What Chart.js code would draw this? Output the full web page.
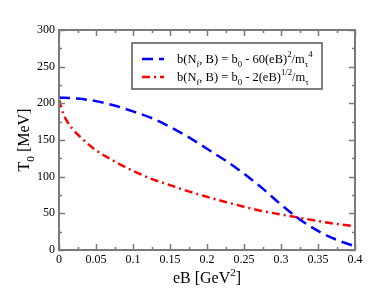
<!DOCTYPE html>
<html>
<head>
<meta charset="utf-8">
<script src="https://cdn.jsdelivr.net/npm/chart.js@4"></script>
<style>
  html, body { margin: 0; padding: 0; background: #fff; }
</style>
</head>
<body>
<canvas id="chart" width="382" height="295"></canvas>
<script>
/* ---------- DATA ---------- */
const EB_BLUE = [0, 0.025, 0.05, 0.075, 0.1, 0.125, 0.15, 0.175, 0.2, 0.225,
                 0.25, 0.275, 0.3, 0.325, 0.35, 0.375, 0.4];
const T_BLUE  = [208, 206.5, 203, 197, 189, 180, 168, 154, 138, 122,
                 104, 84, 62, 42, 26, 14, 5];

const EB_RED = [0, 0.005, 0.01, 0.02, 0.03, 0.05, 0.075, 0.1, 0.125, 0.15,
                0.175, 0.2, 0.225, 0.25, 0.275, 0.3, 0.325, 0.35, 0.375, 0.4];
const T_RED  = [205, 188, 177, 163, 153, 136, 121, 108, 97, 88.5,
                80, 72.5, 65.5, 59, 53, 48.5, 44, 39.5, 35.5, 32.5];

const X_TICKS = [0, 0.05, 0.1, 0.15, 0.2, 0.25, 0.3, 0.35, 0.4];
const Y_TICKS = [0, 50, 100, 150, 200, 250, 300];

/* legend text, split into runs: 0 normal, -1 subscript, 1 superscript */
const LEGEND_BLUE = [["b(N",0],["f",-1],[", B) = b",0],["0",-1],[" - 60(eB)",0],["2",1],["/m",0],["\u03c4",-1],["4",1]];
const LEGEND_RED  = [["b(N",0],["f",-1],[", B) = b",0],["0",-1],[" - 2(eB)",0],["1/2",1],["/m",0],["\u03c4",-1]];

/* ---------- LAYOUT ---------- */
const PLOT = { left: 59, right: 355, top: 30, bottom: 250 };
const SERIF = "'Liberation Serif', 'DejaVu Serif', serif";
const FRAME = "#7a7a7a";

const toPoints = (xs, ys) => xs.map((x, i) => ({ x: x, y: ys[i] }));

/* draws a run of text with sub/superscripts, returns end x */
function drawRuns(ctx, runs, x, y, size) {
  runs.forEach(([t, s]) => {
    const sz = s === 0 ? size : size * 0.7;
    ctx.font = sz + "px " + SERIF;
    const dy = s === -1 ? size * 0.3 : (s === 1 ? -size * 0.45 : 0);
    ctx.fillText(t, x, y + dy);
    x += ctx.measureText(t).width;
  });
  return x;
}

function runsWidth(ctx, runs, size) {
  let w = 0;
  runs.forEach(([t, s]) => {
    ctx.font = (s === 0 ? size : size * 0.7) + "px " + SERIF;
    w += ctx.measureText(t).width;
  });
  return w;
}

/* ---------- FRAME / TICKS / TITLES / LEGEND ---------- */
const decorations = {
  id: "decorations",
  afterDatasetsDraw(chart) {
    const ctx = chart.ctx;
    const xs = chart.scales.x, ys = chart.scales.y;
    const L = xs.getPixelForValue(0), R = xs.getPixelForValue(0.4);
    const T = ys.getPixelForValue(300), B = ys.getPixelForValue(0);

    ctx.save();
    ctx.strokeStyle = FRAME;
    ctx.lineWidth = 1.5;

    // inward ticks on all four sides
    ctx.beginPath();
    for (let i = 0; i <= 16; i++) {
      const v = i * 0.025;
      const len = i % 2 === 0 ? 6 : 3;
      const px = Math.round(xs.getPixelForValue(v)) + 0.5;
      ctx.moveTo(px, B); ctx.lineTo(px, B - len);
      ctx.moveTo(px, T); ctx.lineTo(px, T + len);
    }
    for (let i = 0; i <= 12; i++) {
      const v = i * 25;
      const len = i % 2 === 0 ? 6 : 3;
      const py = Math.round(ys.getPixelForValue(v)) + 0.5;
      ctx.moveTo(L, py); ctx.lineTo(L + len, py);
      ctx.moveTo(R, py); ctx.lineTo(R - len, py);
    }
    ctx.stroke();

    ctx.lineWidth = 2;
    ctx.strokeRect(L, T, R - L, B - T);

    // axis titles
    ctx.fillStyle = "#000";
    ctx.textBaseline = "alphabetic";
    const xRuns = [["eB [GeV",0],["2",1],["]",0]];
    const tw = runsWidth(ctx, xRuns, 16);
    drawRuns(ctx, xRuns, (L + R) / 2 - tw / 2, 283, 16);

    const yRuns = [["T",0],["0",-1],[" [MeV]",0]];
    const th = runsWidth(ctx, yRuns, 16);
    ctx.save();
    ctx.translate(29, (T + B) / 2);
    ctx.rotate(-Math.PI / 2);
    drawRuns(ctx, yRuns, -th / 2, 0, 16);
    ctx.restore();

    // legend box
    const box = { x: 132, y: 43, w: 190, h: 46 };
    ctx.fillStyle = "#fff";
    ctx.fillRect(box.x, box.y, box.w, box.h);
    ctx.strokeStyle = "#555";
    ctx.lineWidth = 1.5;
    ctx.strokeRect(box.x, box.y, box.w, box.h);

    const rows = [
      { ds: chart.data.datasets[0], runs: LEGEND_BLUE, y: 59 },
      { ds: chart.data.datasets[1], runs: LEGEND_RED, y: 77 }
    ];
    rows.forEach(r => {
      ctx.strokeStyle = r.ds.borderColor;
      ctx.lineWidth = r.ds.borderWidth;
      ctx.setLineDash(r.ds.borderDash);
      ctx.beginPath();
      ctx.moveTo(142, r.y); ctx.lineTo(164, r.y);
      ctx.stroke();
      ctx.setLineDash([]);
      ctx.fillStyle = "#000";
      drawRuns(ctx, r.runs, 177, r.y + 4, 12.5);
    });
    ctx.restore();
  }
};

/* ---------- CHART ---------- */
new Chart(document.getElementById("chart"), {
  type: "line",
  data: {
    datasets: [
      {
        label: "b0 - 60(eB)^2/m^4",
        data: toPoints(EB_BLUE, T_BLUE),
        borderColor: "#0000ff",
        borderWidth: 2.5,
        borderDash: [11, 6],
        pointRadius: 0,
        fill: false,
        cubicInterpolationMode: "monotone"
      },
      {
        label: "b0 - 2(eB)^1/2/m",
        data: toPoints(EB_RED, T_RED),
        borderColor: "#ff0000",
        borderWidth: 2.5,
        borderDash: [8, 4, 2, 4],
        pointRadius: 0,
        fill: false,
        cubicInterpolationMode: "monotone"
      }
    ]
  },
  options: {
    responsive: false,
    animation: false,
    layout: { padding: { top: PLOT.top, right: 382 - PLOT.right, left: 0, bottom: 0 } },
    plugins: { legend: { display: false }, tooltip: { enabled: false } },
    scales: {
      x: {
        type: "linear",
        min: 0, max: 0.4,
        afterBuildTicks: s => { s.ticks = X_TICKS.map(v => ({ value: v })); },
        afterFit: s => { s.height = 295 - PLOT.bottom; },
        grid: { display: false, drawTicks: false },
        border: { display: false },
        ticks: {
          padding: 3,
          color: "#000",
          font: { family: SERIF, size: 12 },
          maxRotation: 0,
          autoSkip: false,
          callback: v => String(parseFloat(v.toFixed(2)))
        }
      },
      y: {
        min: 0, max: 300,
        afterBuildTicks: s => { s.ticks = Y_TICKS.map(v => ({ value: v })); },
        afterFit: s => { s.width = PLOT.left; },
        grid: { display: false, drawTicks: false },
        border: { display: false },
        ticks: {
          padding: 4,
          color: "#000",
          font: { family: SERIF, size: 12 },
          autoSkip: false
        }
      }
    }
  },
  plugins: [decorations]
});
</script>
</body>
</html>
